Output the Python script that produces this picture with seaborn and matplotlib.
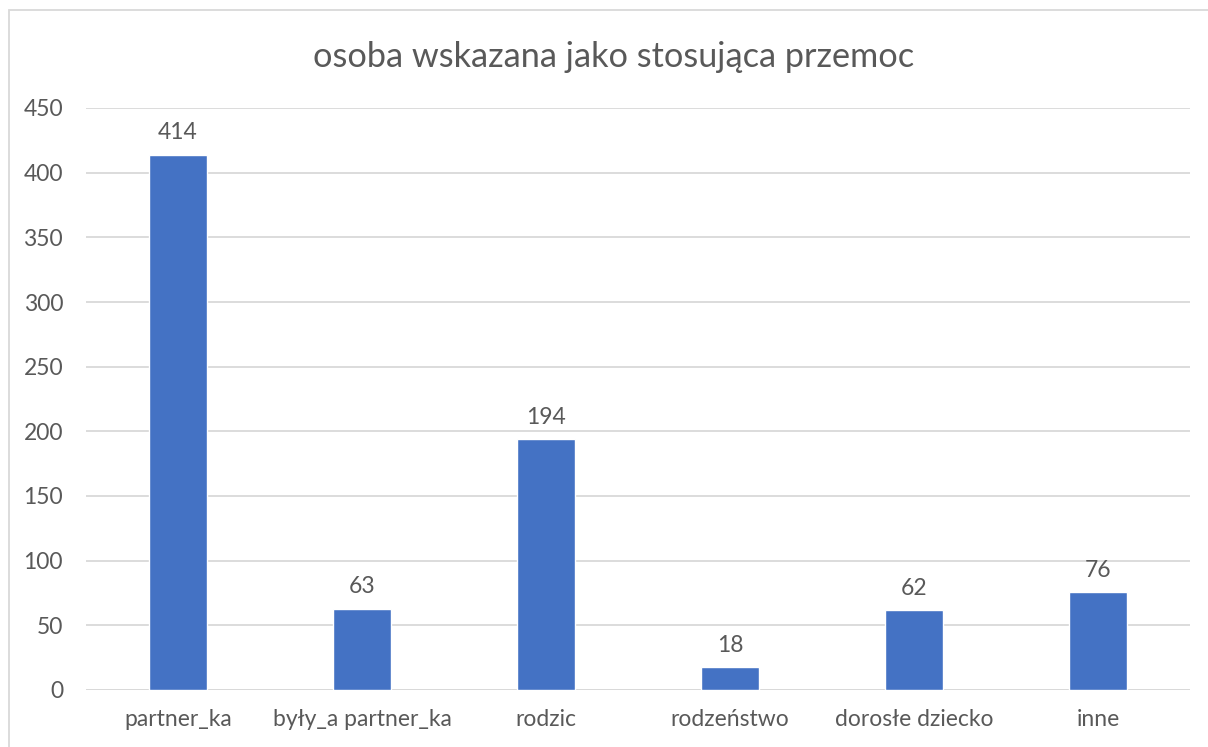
import matplotlib
matplotlib.use("Agg")
import matplotlib.pyplot as plt
import seaborn as sns
import pandas as pd

# values
categories = ["partner_ka", "były_a partner_ka", "rodzic", "rodzeństwo",
              "dorosłe dziecko", "inne"]
counts = [414, 63, 194, 18, 62, 76]
y_ticks = list(range(0, 451, 50))
title = "osoba wskazana jako stosująca przemoc"

BAR_COLOR = "#4472C4"
TEXT_COLOR = "#595959"
GRID_COLOR = "#D9D9D9"

sns.set_theme(style="white")
plt.rcParams["font.family"] = ["Lato", "DejaVu Sans"]

df = pd.DataFrame({"kategoria": categories, "liczba": counts})

fig = plt.figure(figsize=(12.08, 7.47), dpi=100)
ax = fig.add_axes([86 / 1208, 57 / 747, 1104 / 1208, 582 / 747])

sns.barplot(data=df, x="kategoria", y="liczba", color=BAR_COLOR,
            width=0.315, saturation=1, ax=ax, zorder=3)

ax.set_ylim(0, 450)
ax.set_xlim(-0.5, len(categories) - 0.5)
ax.set_yticks(y_ticks)
ax.yaxis.grid(True, color=GRID_COLOR, linewidth=1.3, zorder=0)
ax.set_axisbelow(True)
for s in ax.spines.values():
    s.set_visible(False)
ax.axhline(0, color=GRID_COLOR, linewidth=1.3, zorder=2)

ax.tick_params(axis="both", length=0, labelsize=16.5, colors=TEXT_COLOR)
ax.tick_params(axis="y", pad=16.5)
ax.tick_params(axis="x", pad=14)
ax.set_xlabel("")
ax.set_ylabel("")

for container in ax.containers:
    ax.bar_label(container, padding=8, fontsize=16.5, color=TEXT_COLOR)

fig.text(0.508, 1 - 57 / 747, title, ha="center", va="center",
         fontsize=24.7, color=TEXT_COLOR)

# chart-area border (cut off on right and bottom in the reference)
border = plt.Rectangle((9 / 1208, -0.1), 1.2, 1 - 10 / 747 + 0.1,
                       transform=fig.transFigure, fill=False,
                       edgecolor="#D9D9D9", linewidth=1.3)
fig.patches.append(border)

fig.savefig("out.png", dpi=100)
